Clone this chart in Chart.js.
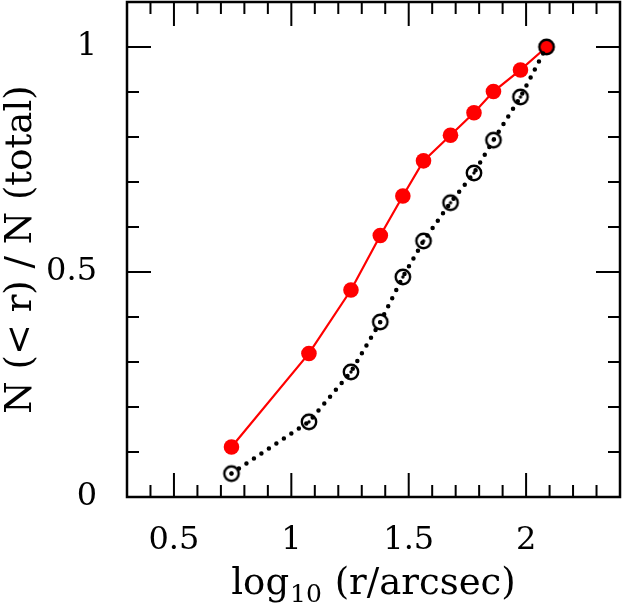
<!DOCTYPE html>
<html>
<head>
<meta charset="utf-8">
<script src="https://cdn.jsdelivr.net/npm/chart.js@4/dist/chart.umd.min.js"></script>
<style>
html,body{margin:0;padding:0;background:#fff;}
#wrap{width:623px;height:605px;}
</style>
</head>
<body>
<div id="wrap"><canvas id="c" width="623" height="605"></canvas></div>
<script>
// log10(r/arcsec) positions (shared by both samples)
const logR = [0.745, 1.075, 1.254, 1.379, 1.475, 1.563, 1.678, 1.778, 1.861, 1.976, 2.087];
// cumulative fraction, filled red sample
const fracRed = [0.111, 0.319, 0.460, 0.581, 0.669, 0.747, 0.804, 0.854, 0.901, 0.949, 1.0];
// cumulative fraction, open black sample
const fracBlack = [0.052, 0.167, 0.278, 0.389, 0.489, 0.569, 0.654, 0.720, 0.793, 0.889, 1.0];
// x title pieces: main, subscript, rest
const xTitleParts = ['log', '10', ' (r/arcsec)'];
const yTitle = 'N (< r) / N (total)';
const xRange = [0.3, 2.4];
const yRange = [0, 1.1];

const FONT = "'DejaVu Serif', serif";

// open circle (optionally with centre dot) symbol
function sunSymbol(withDot){
  const c = document.createElement('canvas');
  c.width = 20; c.height = 20;
  const g = c.getContext('2d');
  g.strokeStyle = '#000'; g.lineWidth = 2.4;
  g.beginPath(); g.arc(10,10,7.2,0,Math.PI*2); g.stroke();
  if (withDot) {
    g.fillStyle = '#000';
    g.beginPath(); g.arc(10,10,1.7,0,Math.PI*2); g.fill();
  }
  return c;
}
const symDot = sunSymbol(true), symRing = sunSymbol(false);

const isMajor = v => Math.abs(v*2 - Math.round(v*2)) < 1e-6;
const fmt = v => isMajor(v) ? String(Math.round(v*10)/10) : '';

const frameTicks = {
  id: 'frameTicks',
  afterDraw(chart){
    const {ctx, chartArea:a, scales:{x, y}} = chart;
    ctx.save();
    ctx.strokeStyle = '#000';
    ctx.lineWidth = 2;
    ctx.lineCap = 'butt';
    ctx.beginPath();
    x.ticks.forEach(t => {
      const px = x.getPixelForValue(t.value);
      const L = isMajor(t.value) ? 24 : 12;
      ctx.moveTo(px, a.bottom); ctx.lineTo(px, a.bottom - L);
      ctx.moveTo(px, a.top); ctx.lineTo(px, a.top + L);
    });
    y.ticks.forEach(t => {
      const py = y.getPixelForValue(t.value);
      const L = isMajor(t.value) ? 24 : 12;
      ctx.moveTo(a.left, py); ctx.lineTo(a.left + L, py);
      ctx.moveTo(a.right, py); ctx.lineTo(a.right - L, py);
    });
    ctx.stroke();
    ctx.lineWidth = 2.5;
    ctx.strokeRect(a.left, a.top, a.right - a.left, a.bottom - a.top);

    // x-axis title with a true subscript
    const mainF = '37px ' + FONT, subF = '25px ' + FONT;
    ctx.fillStyle = '#000';
    ctx.textBaseline = 'alphabetic';
    ctx.font = mainF; const w0 = ctx.measureText(xTitleParts[0]).width;
    const w2 = ctx.measureText(xTitleParts[2]).width;
    ctx.font = subF; const w1 = ctx.measureText(xTitleParts[1]).width + 2;
    const total = w0 + w1 + w2;
    const cx = (a.left + a.right) / 2;
    let sx = cx - total / 2;
    const base = 594;
    ctx.textAlign = 'left';
    ctx.font = mainF; ctx.fillText(xTitleParts[0], sx, base); sx += w0 + 1;
    ctx.font = subF; ctx.fillText(xTitleParts[1], sx, base + 8); sx += w1 - 1;
    ctx.font = mainF; ctx.fillText(xTitleParts[2], sx, base);
    ctx.restore();
  }
};

function noPad(s){ s.paddingTop = 0; s.paddingBottom = 0; s.paddingLeft = 0; s.paddingRight = 0; }

new Chart(document.getElementById('c'), {
  type: 'scatter',
  data: {
    datasets: [
      {
        data: logR.map((v,i)=>({x:v, y:fracBlack[i]})),
        showLine: true,
        borderColor: '#000',
        borderWidth: 4.5,
        borderDash: [0, 9],
        borderCapStyle: 'round',
        pointStyle: logR.map((v,i) => i === logR.length - 1 ? symRing : symDot),
        pointRadius: 7,
        pointHoverRadius: 7
      },
      {
        data: logR.map((v,i)=>({x:v, y:fracRed[i]})),
        showLine: true,
        borderColor: '#ff0000',
        borderWidth: 2.2,
        backgroundColor: '#ff0000',
        pointBackgroundColor: '#ff0000',
        pointBorderWidth: 0,
        pointStyle: 'circle',
        pointRadius: 7.8,
        pointHoverRadius: 7.8
      }
    ]
  },
  options: {
    responsive: false,
    animation: false,
    events: [],
    layout: { autoPadding: false, padding: { top: 2, right: 3, left: 0, bottom: 0 } },
    plugins: { legend: { display: false }, tooltip: { enabled: false } },
    scales: {
      x: {
        type: 'linear', min: xRange[0], max: xRange[1],
        grid: { display: false }, border: { display: false },
        ticks: { stepSize: 0.1, autoSkip: false, maxRotation: 0, padding: 16,
                 color: '#000', font: { family: FONT, size: 32 }, callback: fmt },
        title: { display: false },
        afterFit(s){ s.height = 108; noPad(s); }
      },
      y: {
        type: 'linear', min: yRange[0], max: yRange[1],
        grid: { display: false }, border: { display: false },
        ticks: { stepSize: 0.1, autoSkip: false, padding: 22,
                 color: '#000', font: { family: FONT, size: 32 }, callback: fmt },
        title: { display: true, text: yTitle, color: '#000',
                 font: { family: FONT, size: 37 }, padding: { top: -1, bottom: 0 } },
        afterFit(s){ s.width = 127; noPad(s); }
      }
    }
  },
  plugins: [frameTicks]
});
</script>
</body>
</html>
